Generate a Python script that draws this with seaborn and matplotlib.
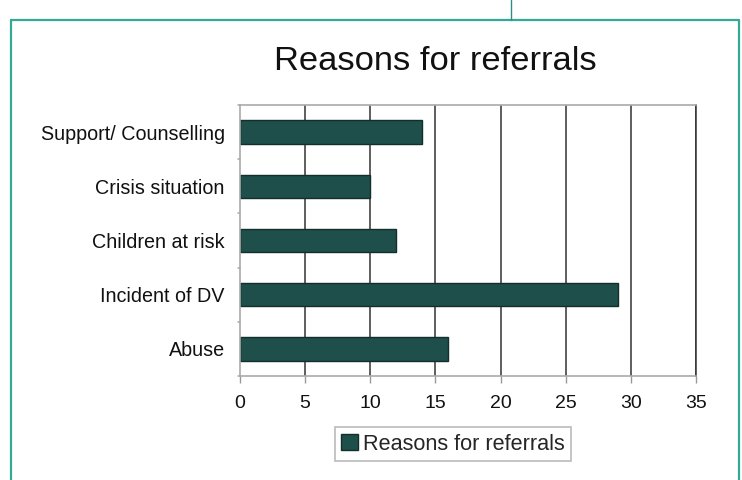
import matplotlib
matplotlib.use("Agg")
import matplotlib.pyplot as plt
import seaborn as sns
import pandas as pd
from matplotlib.lines import Line2D

categories = ["Support/ Counselling", "Crisis situation", "Children at risk",
              "Incident of DV", "Abuse"]
values = [14, 10, 12, 29, 16]
x_ticks = [0, 5, 10, 15, 20, 25, 30, 35]
series_name = "Reasons for referrals"

df = pd.DataFrame({"category": categories, "value": values, "series": series_name})

sns.set_theme(style="white")
plt.rcParams["font.family"] = ["Liberation Sans", "DejaVu Sans"]

W, H = 742, 480
fig = plt.figure(figsize=(W / 100, H / 100), dpi=100)
ax = fig.add_axes([240 / W, 1 - 376 / H, (696 - 240) / W, (376 - 105) / H])

bar_color = "#1f4f4b"
sns.barplot(data=df, x="value", y="category", hue="series", orient="h",
            palette=[bar_color], width=0.43, edgecolor="#142e2b", linewidth=1.0,
            saturation=1, ax=ax, legend=True)

ax.set_xlim(0, 35)
ax.set_ylim(4.5, -0.5)
ax.set_xticks(x_ticks)
ax.set_xticklabels([str(t) for t in x_ticks], fontsize=14, color="#111111")
ax.tick_params(axis="y", labelsize=14.2, labelcolor="#111111", length=0, pad=11)
ax.tick_params(axis="x", length=5, color="#999999", width=1.0, pad=9, bottom=True,
               direction="out")
ax.set_xlabel("")
ax.set_ylabel("")

# vertical gridlines
for t in x_ticks[1:]:
    ax.axvline(t, color="#333333", linewidth=1.1, zorder=0)

for side in ["top", "left", "bottom"]:
    ax.spines[side].set_color("#aaaaaa")
    ax.spines[side].set_linewidth(1.2)
ax.spines["right"].set_color("#333333")
ax.spines["right"].set_linewidth(1.1)

# category boundary tick marks on the left axis
for b in [-0.5, 0.5, 1.5, 2.5, 3.5, 4.5]:
    ax.plot([-0.14, 0], [b, b], color="#aaaaaa", linewidth=1.1, clip_on=False)

fig.text(435 / W, 1 - 61 / H, "Reasons for referrals", ha="center", va="center",
         fontsize=24.8, color="#111111")

leg = ax.legend(loc="center", bbox_to_anchor=(453 / W, 1 - 444 / H),
                bbox_transform=fig.transFigure, fontsize=15.6, frameon=True,
                fancybox=False, handlelength=0.75, handleheight=0.75,
                handletextpad=0.25, borderpad=0.3)
leg.get_frame().set_edgecolor("#aaaaaa")
leg.get_frame().set_linewidth(1.2)

# outer frame
teal = "#35a998"
fig.add_artist(Line2D([11 / W, 11 / W], [0, 1 - 19.5 / H], transform=fig.transFigure,
                      color=teal, linewidth=1.6))
fig.add_artist(Line2D([11 / W, 739 / W], [1 - 19.5 / H, 1 - 19.5 / H],
                      transform=fig.transFigure, color=teal, linewidth=1.6))
fig.add_artist(Line2D([739 / W, 739 / W], [0, 1 - 19.5 / H], transform=fig.transFigure,
                      color=teal, linewidth=1.6))
fig.add_artist(Line2D([511 / W, 511 / W], [1 - 19.5 / H, 1], transform=fig.transFigure,
                      color="#2b8f82", linewidth=1.0))

fig.savefig("out.png", dpi=100)
